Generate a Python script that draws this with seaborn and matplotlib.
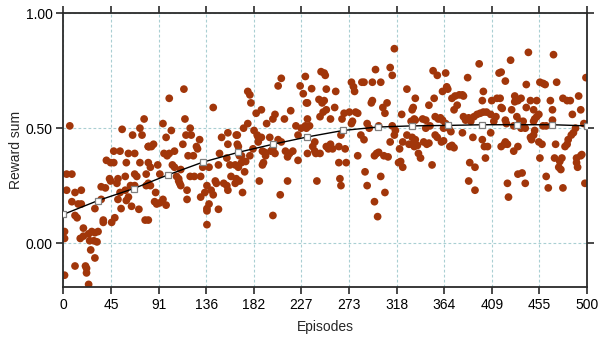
import matplotlib
matplotlib.use("Agg")
import matplotlib.pyplot as plt
import seaborn as sns
import pandas as pd

# ---- data ----
points = [
    (6,0.51),(3,0.30),(8,0.30),(3,0.23),(11,0.22),(17,0.23),(8,0.18),(14,0.17),(17,0.17),(11,0.12),
    (13,0.11),(1,0.05),(1,0.02),(19,0.065),(16,0.02),(19,0.03),(24,0.04),(27,0.05),(30,0.045),(33,0.05),
    (25,0.01),(29,0.01),(32,0.005),(26,-0.03),(30,-0.065),(11,-0.10),(21,-0.10),(22,-0.11),(22,-0.13),(24,-0.18),
    (1,-0.14),(30,0.15),(36,0.19),(36,0.245),(40,0.24),(41,0.36),(45,0.35),(48,0.35),(44,0.28),(45,0.27),
    (38,0.10),(38,0.09),(46,0.09),(49,0.11),(48,0.40),(54,0.40),(56,0.495),(52,0.28),(51,0.26),(54,0.22),
    (59,0.23),(62,0.20),(55,0.15),(60,0.35),(59,0.29),(68,0.30),(70,0.29),(62,0.39),(68,0.39),(66,0.47),
    (73,0.50),(75,0.47),(77,0.54),(73,0.35),(81,0.42),(65,0.16),(72,0.147),(64,0.25),(68,0.25),(79,0.25),
    (78,0.10),(79,0.30),(52,0.19),(60,0.185),
    (81,0.42),(82,0.42),(84,0.42),(86,0.43),(81,0.35),(83,0.33),(81,0.26),(83,0.25),(81,0.10),(87,0.18),
    (89,0.17),(92,0.175),(95,0.19),(98,0.165),(88,0.22),(90,0.34),(92,0.30),(95,0.52),(96,0.39),(99,0.38),
    (101,0.39),(106,0.40),(98,0.46),(101,0.63),(103,0.49),(104,0.34),(106,0.33),(108,0.29),(110,0.28),(111,0.26),
    (112,0.25),(110,0.27),(112,0.32),(114,0.43),(115,0.67),(116,0.54),(117,0.47),(122,0.47),(121,0.50),(119,0.38),
    (124,0.38),(118,0.23),(118,0.19),(121,0.29),(125,0.29),(127,0.42),(128,0.41),(130,0.45),(131,0.29),(133,0.33),
    (131,0.20),(135,0.22),(137,0.15),(137,0.14),(139,0.17),(137,0.08),(137,0.25),(139,0.33),(143,0.59),(141,0.23),
    (143,0.21),(145,0.27),(146,0.26),(148,0.34),(148,0.147),(149,0.39),(151,0.46),(153,0.26),(156,0.25),(156,0.37),
    (159,0.34),(157,0.23),(157,0.48),(157,0.43),(160,0.29),(164,0.26),(166,0.47),(166,0.43),(164,0.34),
    (165,0.47),(167,0.42),(168,0.38),(170,0.38),(167,0.33),(170,0.35),(165,0.28),(168,0.27),(171,0.22),(173,0.31),
    (174,0.355),(178,0.38),(172,0.50),(176,0.52),(176,0.66),(178,0.645),(179,0.61),(184,0.565),(189,0.58),(182,0.49),
    (185,0.47),(186,0.46),(186,0.44),(189,0.46),(181,0.41),(190,0.40),(192,0.395),(193,0.38),(191,0.35),(190,0.34),
    (187,0.27),(194,0.52),(197,0.46),(198,0.40),(200,0.41),(202,0.39),(200,0.54),(202,0.56),(205,0.684),(208,0.717),
    (205,0.45),(208,0.44),(207,0.21),(200,0.12),(211,0.54),(212,0.40),(214,0.375),(216,0.39),(214,0.27),(217,0.576),
    (219,0.40),(222,0.51),(224,0.47),(224,0.36),(226,0.684),(231,0.725),(229,0.65),(232,0.61),(233,0.61),(227,0.50),
    (231,0.51),(232,0.50),(235,0.51),(233,0.54),(233,0.39),(238,0.42),(240,0.44),(237,0.672),(240,0.40),(241,0.39),
    (242,0.27),(246,0.746),(250,0.73),(244,0.625),(247,0.61),(245,0.55),(248,0.57),(245,0.39),
    (249,0.74),(251,0.67),(249,0.62),(251,0.58),(255,0.54),(251,0.42),(253,0.41),(257,0.41),(255,0.43),(263,0.42),
    (260,0.66),(259,0.59),(263,0.35),(264,0.28),(265,0.25),(270,0.35),(269,0.41),(265,0.47),(268,0.565),(273,0.57),
    (266,0.54),(275,0.70),(277,0.68),(278,0.66),(279,0.57),(281,0.565),(275,0.52),(276,0.53),(285,0.70),(287,0.70),
    (284,0.47),(287,0.45),(281,0.38),(288,0.31),(290,0.25),(290,0.52),(292,0.50),(294,0.61),(295,0.62),(295,0.70),
    (297,0.38),(299,0.39),(301,0.395),(297,0.18),(298,0.755),(300,0.115),(303,0.29),(301,0.51),(303,0.70),(305,0.59),
    (307,0.565),(307,0.22),(306,0.38),(310,0.375),(309,0.61),(312,0.44),(312,0.764),(314,0.73),(316,0.846),(314,0.51),
    (317,0.49),(316,0.47),(320,0.35),(322,0.355),(324,0.33),(321,0.41),(324,0.44),(323,0.56),(328,0.67),(328,0.47),
    (330,0.43),(333,0.43),(332,0.53),(334,0.59),
    (333,0.58),(336,0.63),(335,0.54),(336,0.535),(333,0.46),(336,0.45),(335,0.42),(338,0.425),(339,0.39),(341,0.37),
    (343,0.54),(346,0.535),(346,0.50),(344,0.44),(347,0.43),(349,0.435),(350,0.51),(352,0.34),(349,0.60),(354,0.63),
    (353,0.75),(357,0.73),(355,0.55),(358,0.54),(360,0.545),(362,0.535),(355,0.47),(357,0.46),(361,0.44),(363,0.445),
    (362,0.66),(365,0.74),(365,0.52),(366,0.68),(367,0.67),(363,0.50),(368,0.50),(370,0.485),(369,0.42),(371,0.425),
    (373,0.415),(371,0.63),(374,0.64),(378,0.645),(381,0.645),(382,0.64),(376,0.60),(373,0.58),(381,0.48),(382,0.55),
    (384,0.535),(386,0.54),(387,0.545),(386,0.72),(389,0.53),(392,0.55),(395,0.56),(398,0.565),(401,0.57),(404,0.57),
    (408,0.56),(391,0.46),(388,0.35),(393,0.33),(387,0.27),(393,0.23),(397,0.78),(401,0.66),(400,0.62),(400,0.45),
    (402,0.42),(405,0.42),(403,0.37),(408,0.48),(409,0.62),(411,0.53),(413,0.55),(414,0.63),(416,0.74),(418,0.59),
    (418,0.42),
    (418,0.744),(422,0.705),(427,0.796),(417,0.63),(419,0.586),(422,0.535),(423,0.52),(428,0.58),(431,0.64),(431,0.615),
    (434,0.62),(437,0.63),(430,0.51),(433,0.55),(436,0.53),(422,0.44),(424,0.43),(421,0.43),(430,0.40),(434,0.42),
    (434,0.30),(438,0.305),(441,0.26),(424,0.26),(425,0.20),(439,0.53),(437,0.50),(441,0.50),(442,0.69),(442,0.59),
    (446,0.62),(444,0.83),(447,0.45),(449,0.47),(450,0.49),(446,0.46),(449,0.53),(450,0.54),(452,0.55),(454,0.56),
    (449,0.58),(452,0.62),(455,0.70),(458,0.695),(460,0.69),(454,0.44),(457,0.43),(455,0.37),(458,0.51),(461,0.51),
    (461,0.29),(463,0.24),(465,0.62),(467,0.58),(467,0.535),(468,0.82),(470,0.43),(471,0.70),(469,0.37),(474,0.355),
    (476,0.37),(473,0.33),(475,0.32),(477,0.24),(477,0.63),(481,0.62),(484,0.62),(479,0.42),(481,0.43),(482,0.45),
    (485,0.47),(487,0.48),(489,0.50),(486,0.56),(492,0.64),(494,0.58),(490,0.37),(494,0.38),(495,0.385),(490,0.35),
    (491,0.33),(497,0.52),(498,0.26),(499,0.72),
]
episodes = [p[0] for p in points]
rewards = [p[1] for p in points]

fit_episodes = [0, 33, 67, 100, 133, 167, 200, 233, 267, 300, 333, 367, 400, 433, 467, 500]
fit_values = [0.125, 0.185, 0.237, 0.297, 0.352, 0.395, 0.43, 0.462, 0.49, 0.505,
              0.51, 0.512, 0.515, 0.515, 0.515, 0.51]

xtick_pos = [0, 45.45, 90.91, 136.36, 181.82, 227.27, 272.73, 318.18, 363.64, 409.09, 454.55, 500]
xtick_labels = ["0", "45", "91", "136", "182", "227", "273", "318", "364", "409", "455", "500"]
ytick_pos = [0.0, 0.5, 1.0]
ytick_labels = ["0.00", "0.50", "1.00"]

# ---- plotting ----
sns.set_theme(style="white")
plt.rcParams['font.family'] = ['Liberation Sans', 'DejaVu Sans']

fig = plt.figure(figsize=(6.03, 3.44), dpi=100)
ax = fig.add_axes([0.1053, 0.1666, 0.8682, 0.7947])

df = pd.DataFrame({"Episodes": episodes, "Reward sum": rewards})
sns.scatterplot(data=df, x="Episodes", y="Reward sum", color="#a1360a",
                s=31, edgecolor="none", linewidth=0, ax=ax, zorder=2)
sns.lineplot(x=fit_episodes, y=fit_values, color="black", linewidth=1.0,
             marker="s", markersize=5, markerfacecolor="white",
             markeredgecolor="#7f7f7f", markeredgewidth=0.9, ax=ax, zorder=3)

ax.set_xlim(0, 500)
ax.set_ylim(-0.19, 1.0)
ax.set_xticks(xtick_pos)
ax.set_xticklabels(xtick_labels)
ax.set_yticks(ytick_pos)
ax.set_yticklabels(ytick_labels)

ax.set_axisbelow(True)
ax.grid(True, color="#a9cfd3", linestyle=(0, (2.5, 2)), linewidth=0.8)

for sp in ax.spines.values():
    sp.set_visible(True)
    sp.set_color("#2a2a2a")
    sp.set_linewidth(1.3)

ax.tick_params(direction="out", length=5, width=1.2, color="#2a2a2a",
               top=True, right=True, bottom=True, left=True,
               labelsize=10, labelcolor="black", pad=3)

ax.set_xlabel("Episodes", fontsize=10, labelpad=6)
ax.set_ylabel("Reward sum", fontsize=10, labelpad=2)

fig.savefig("out.png", dpi=100)
